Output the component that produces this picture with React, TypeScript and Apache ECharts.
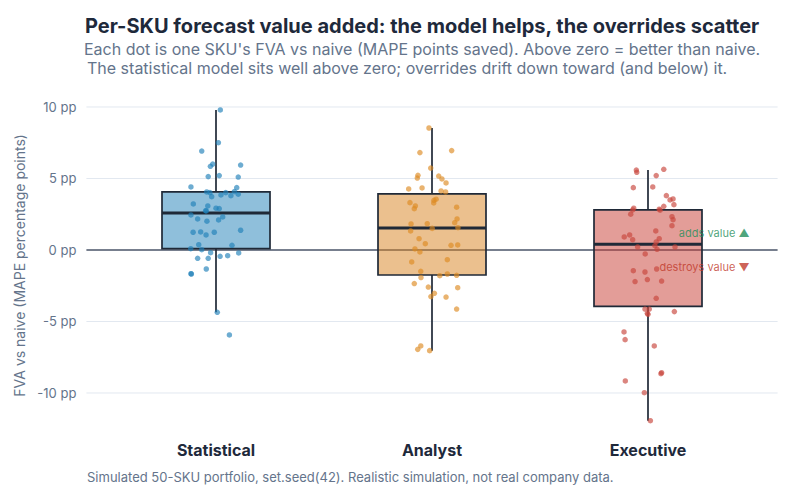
import React, { useEffect, useRef } from "react";
import * as echarts from "echarts";

// Forecast groups along the x axis (positions 1, 2, 3)
const categories = ["Statistical", "Analyst", "Executive"];

// Per-SKU FVA vs naive, in MAPE percentage points, with horizontal jitter (category units)
const statisticalFva = [
  9.79, 7.5, 6.92, 6.01, 5.85, 5.94, 5.13, 5.2, 5.1, 4.41, 4.36, 4.06, 4.01, 3.73, 3.85, 4.01, 3.8,
  4.08, 3.9, 3.22, 3.08, 2.92, 2.89, 2.73, 2.75, 2.45, 2.17, 2.01, 2.1, 2.31, 1.24, 1.26, 1.24, 1.05,
  1.38, 0.37, 0.33, 0.09, 0.02, -0.19, -0.21, -0.58, -0.58, -0.44, -0.4, -1.33, -1.66, -1.68, -4.36,
  -5.94,
];
const statisticalJitter = [
  0.02, 0.011, -0.066, -0.015, -0.026, 0.114, -0.036, 0.015, 0.103, -0.116, 0.096, -0.043, -0.028,
  -0.02, 0.023, 0.045, 0.069, 0.085, 0.103, -0.105, -0.038, 0.0, 0.015, -0.045, -0.048, -0.116,
  -0.085, -0.042, 0.012, 0.031, -0.106, -0.071, -0.008, -0.046, 0.114, -0.08, 0.074, -0.117, -0.066,
  -0.025, 0.105, -0.085, -0.036, 0.019, 0.054, -0.045, -0.116, -0.114, 0.006, 0.062,
];

const analystFva = [
  8.53, 6.81, 6.95, 5.73, 5.22, 5.03, 5.17, 4.97, 4.69, 4.27, 4.34, 4.13, 4.06, 3.47, 3.55, 3.29,
  3.31, 3.08, 2.89, 2.99, 2.17, 1.91, 1.84, 1.82, 1.33, 1.51, 1.56, 0.79, 0.44, 0.07, -0.14, 0.33,
  0.35, -0.68, -0.84, -1.49, -1.93, -1.8, -1.68, -1.77, -2.35, -2.59, -2.64, -3.03, -3.26, -3.29,
  -4.13, -6.95, -6.71, -7.04,
];
const analystJitter = [
  -0.014, -0.056, 0.091, -0.006, -0.065, -0.068, 0.031, 0.046, 0.065, -0.108, -0.046, 0.042, 0.063,
  0.009, 0.019, 0.008, -0.102, -0.077, -0.082, 0.114, 0.116, 0.105, -0.022, -0.097, -0.099, 0.001,
  0.12, -0.06, -0.031, -0.079, -0.056, 0.088, 0.119, 0.071, -0.094, -0.052, -0.051, 0.036, 0.071,
  0.114, -0.082, -0.017, 0.119, 0.011, -0.005, 0.065, 0.114, -0.066, -0.052, -0.011,
];

const executiveFva = [
  5.59, 5.43, 5.64, 5.2, 4.36, 4.41, 3.8, 3.5, 3.57, 3.17, 3.05, 2.85, 2.78, 2.92, 2.8, 2.5, 2.33,
  2.12, 1.7, 1.33, 0.91, 1.05, 0.72, 0.79, 0.56, 0.3, 0.05, 0.21, 0.21, -0.28, -1.45, -1.54, -1.33,
  -2.21, -2.07, -2.17, -3.38, -4.13, -4.13, -4.43, -4.5, -4.31, -5.73, -6.27, -6.71, -8.65, -8.58,
  -9.16, -9.98, -11.94,
];
const executiveJitter = [
  -0.054, -0.052, 0.073, 0.038, -0.068, 0.022, 0.085, 0.102, 0.116, 0.12, 0.073, 0.052, 0.056,
  -0.066, -0.071, -0.08, 0.111, 0.116, 0.111, 0.036, -0.11, -0.085, -0.071, 0.052, 0.038, 0.032,
  0.042, -0.048, 0.125, -0.013, -0.068, -0.014, 0.04, -0.06, -0.003, 0.063, 0.038, -0.014, 0.006,
  -0.003, 0.0, 0.122, -0.111, -0.106, 0.029, 0.06, 0.063, -0.105, -0.017, 0.011,
];

// Box summaries per group: whisker ends, quartiles and median
const boxLow = [-4.36, -7.04, -11.94];
const boxQ1 = [0.09, -1.75, -3.94];
const boxMedian = [2.59, 1.54, 0.4];
const boxQ3 = [4.06, 3.92, 2.8];
const boxHigh = [9.79, 8.53, 5.59];

// Axis ticks
const yTicks = [-10, -5, 0, 5, 10];
const yMin = -13.03;
const yMax = 10.88;

const FONT = "Inter, 'Noto Sans', sans-serif";
const INK = "#1E293B";
const MUTED = "#64748B";
const dotColors = ["#1F7FB8", "#DD8A22", "#C8443A"];
const boxFills = ["rgba(31,127,184,0.5)", "rgba(215,130,30,0.5)", "rgba(200,60,50,0.5)"];

export default function App() {
  const ref = useRef<HTMLDivElement>(null);

  useEffect(() => {
    document.body.style.margin = "0";
    if (!ref.current) return;
    const chart = echarts.init(ref.current, undefined, { renderer: "svg" });

    const groups = [
      { fva: statisticalFva, jitter: statisticalJitter },
      { fva: analystFva, jitter: analystJitter },
      { fva: executiveFva, jitter: executiveJitter },
    ];

    const boxData = categories.map((_, i) => [
      i + 1,
      boxLow[i],
      boxQ1[i],
      boxMedian[i],
      boxQ3[i],
      boxHigh[i],
    ]);

    const scatterSeries = groups.map((g, i) => ({
      type: "scatter",
      name: categories[i],
      z: 3,
      symbolSize: 5.5,
      itemStyle: { color: dotColors[i], opacity: 0.65 },
      data: g.fva.map((v, k) => [i + 1 + g.jitter[k], v]),
      silent: true,
    }));

    const option: any = {
      animation: false,
      backgroundColor: "#ffffff",
      textStyle: { fontFamily: FONT },
      title: [
        {
          text: "Per-SKU forecast value added: the model helps, the overrides scatter",
          left: 80,
          top: 11,
          textStyle: { fontFamily: FONT, fontSize: 20, fontWeight: "bold", color: INK },
        },
        {
          text: "Each dot is one SKU's FVA vs naive (MAPE points saved). Above zero = better than naive.",
          left: 79,
          top: 36,
          textStyle: { fontFamily: FONT, fontSize: 16, fontWeight: "normal", color: MUTED },
        },
        {
          text: "The statistical model sits well above zero; overrides drift down toward (and below) it.",
          left: 82,
          top: 55,
          textStyle: { fontFamily: FONT, fontSize: 16, fontWeight: "normal", color: MUTED },
        },
        {
          text: "Simulated 50-SKU portfolio, set.seed(42). Realistic simulation, not real company data.",
          left: 82,
          top: 465,
          textStyle: { fontFamily: FONT, fontSize: 13, fontWeight: "normal", color: MUTED },
        },
      ],
      grid: { left: 86.4, right: 22.4, top: 94.4, bottom: 63.7 },
      xAxis: {
        type: "value",
        min: 0.4,
        max: 3.6,
        axisLine: { show: false },
        axisTick: { show: false },
        splitLine: { show: false },
        axisLabel: {
          customValues: [1, 2, 3],
          formatter: (v: number) => categories[Math.round(v) - 1] ?? "",
          fontFamily: FONT,
          fontSize: 16,
          fontWeight: "bold",
          color: INK,
          margin: 6,
        },
      },
      yAxis: {
        type: "value",
        min: yMin,
        max: yMax,
        axisLine: { show: false },
        axisTick: { show: false },
        splitLine: { show: false },
        axisLabel: {
          customValues: yTicks,
          formatter: (v: number) => `${v} pp`,
          fontFamily: FONT,
          fontSize: 13,
          color: MUTED,
          margin: 10,
        },
        name: "FVA vs naive (MAPE percentage points)",
        nameLocation: "middle",
        nameGap: 57,
        nameTextStyle: { fontFamily: FONT, fontSize: 14, color: MUTED },
      },
      series: [
        // horizontal reference lines, zero line darker
        {
          type: "custom",
          z: 1,
          silent: true,
          data: yTicks.map((v) => [v]),
          encode: { y: 0 },
          renderItem: (params: any, api: any) => {
            const v = api.value(0);
            const cs = params.coordSys;
            const y = api.coord([1, v])[1];
            const zero = v === 0;
            return {
              type: "line",
              shape: { x1: cs.x, y1: y, x2: cs.x + cs.width, y2: y },
              style: { stroke: zero ? "#4A5568" : "#E2E8F0", lineWidth: zero ? 1.6 : 1 },
            };
          },
        },
        // boxes and whiskers
        {
          type: "custom",
          z: 2,
          silent: true,
          data: boxData,
          encode: { x: 0, y: [1, 2, 3, 4, 5] },
          renderItem: (params: any, api: any) => {
            const i = params.dataIndex;
            const x = api.value(0);
            const pLow = api.coord([x, api.value(1)]);
            const pQ1 = api.coord([x, api.value(2)]);
            const pMed = api.coord([x, api.value(3)]);
            const pQ3 = api.coord([x, api.value(4)]);
            const pHigh = api.coord([x, api.value(5)]);
            const left = api.coord([x - 0.25, 0])[0];
            const right = api.coord([x + 0.25, 0])[0];
            const cx = pMed[0];
            const stroke = "#1F2937";
            return {
              type: "group",
              children: [
                {
                  type: "line",
                  shape: { x1: cx, y1: pHigh[1], x2: cx, y2: pQ3[1] },
                  style: { stroke, lineWidth: 1.7 },
                },
                {
                  type: "line",
                  shape: { x1: cx, y1: pQ1[1], x2: cx, y2: pLow[1] },
                  style: { stroke, lineWidth: 1.7 },
                },
                {
                  type: "rect",
                  shape: { x: left, y: pQ3[1], width: right - left, height: pQ1[1] - pQ3[1] },
                  style: { fill: boxFills[i], stroke, lineWidth: 1.7 },
                },
                {
                  type: "line",
                  shape: { x1: left, y1: pMed[1], x2: right, y2: pMed[1] },
                  style: { stroke, lineWidth: 3 },
                },
              ],
            };
          },
        },
        ...scatterSeries,
        // direction hints beside the executive box
        {
          type: "scatter",
          z: 4,
          silent: true,
          symbolSize: 0,
          data: [
            {
              value: [3.47, 1.2],
              label: { formatter: "adds value ▲", color: "#1E8E5A" },
            },
            {
              value: [3.47, -1.2],
              label: { formatter: "destroys value ▼", color: "#C0392B" },
            },
          ],
          label: {
            show: true,
            position: "left",
            distance: 0,
            fontFamily: FONT,
            fontSize: 11,
          },
        },
      ],
    };

    chart.setOption(option);
    return () => chart.dispose();
  }, []);

  return <div ref={ref} style={{ width: 800, height: 500 }} />;
}
